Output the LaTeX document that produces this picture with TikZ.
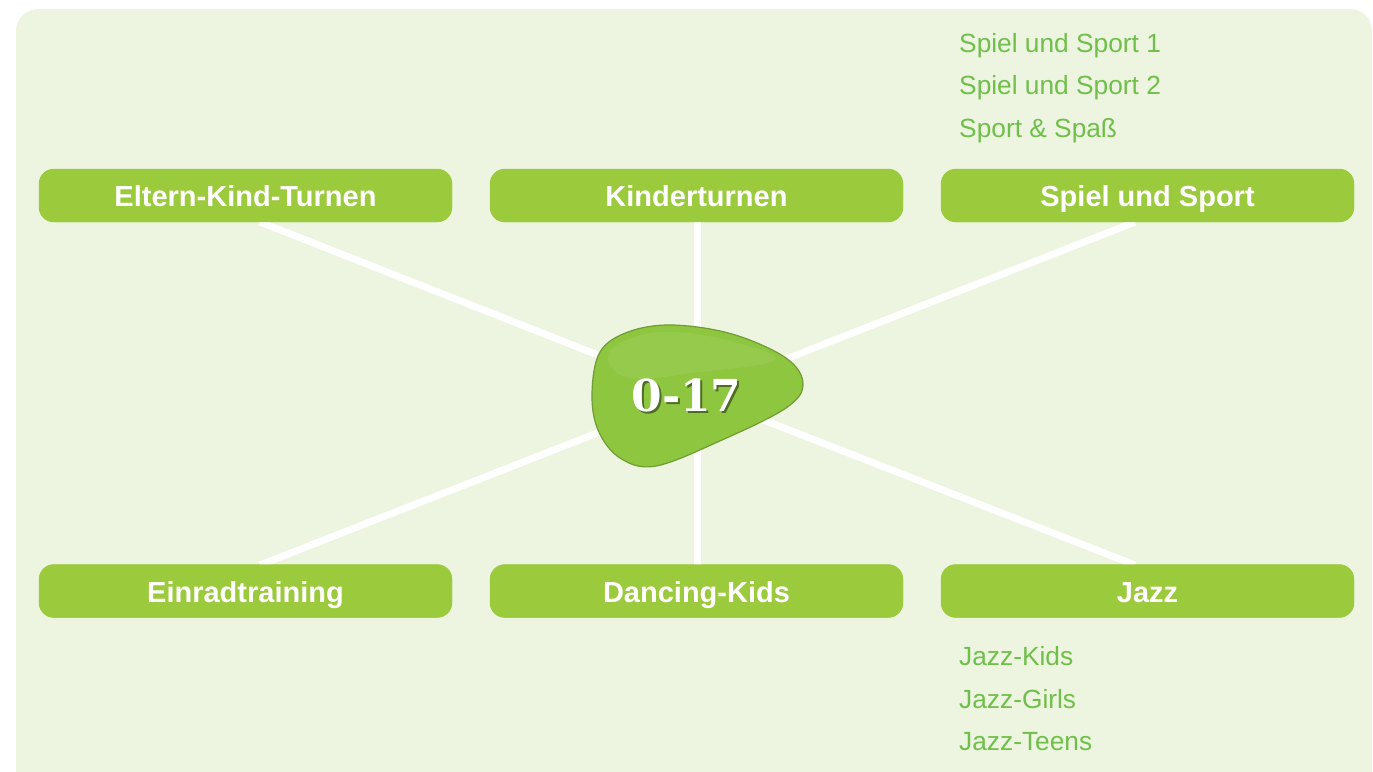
\documentclass[tikz,border=0pt]{standalone}
\usepackage{fontspec}
\setmainfont{Liberation Sans}
\newfontfamily\blobfont{DejaVu Serif}
\definecolor{bgc}{HTML}{EDF5E0}
\definecolor{boxc}{HTML}{9BCA3C}
\definecolor{subc}{HTML}{6FBF4A}
\definecolor{blobc}{HTML}{8EC63F}
\definecolor{blobd}{HTML}{6F9C33}
\begin{document}
\begin{tikzpicture}[x=1pt,y=-1pt,
  catbox/.style={fill=boxc, rounded corners=15pt, minimum width=413pt, minimum height=53pt, inner sep=0pt},
  cattext/.style={text=white, font=\fontsize{29}{29}\selectfont\bfseries, anchor=base},
  sub/.style={text=subc, font=\fontsize{26.3}{26.3}\selectfont, anchor=base west, inner sep=0pt},
  spoke/.style={draw=white, line width=7pt}]
\useasboundingbox (0,0) rectangle (1373,771);
\begin{scope}
\clip (0,0) rectangle (1373,771);
\fill[bgc, rounded corners=22pt] (16,9) rectangle (1372,795);
\end{scope}
% center
\coordinate (c) at (697,394);
% boxes
\node[catbox] (b1) at (245.5,195.5) {};
\node[catbox] (b2) at (696.5,195.5) {};
\node[catbox] (b3) at (1147.5,195.5) {};
\node[catbox] (b4) at (245.5,591) {};
\node[catbox] (b5) at (696.5,591) {};
\node[catbox] (b6) at (1147.5,591) {};
% spokes
\coordinate (s1) at (260,222);
\coordinate (s2) at (697,222);
\coordinate (s3) at (1135,222);
\coordinate (s4) at (260,565);
\coordinate (s5) at (697,565);
\coordinate (s6) at (1135,565);
\foreach \s in {s1,s2,s3,s4,s5,s6} \draw[spoke] (c) -- (\s);
% redraw boxes over spokes
\foreach \b in {b1,b2,b3,b4,b5,b6} \fill[boxc, rounded corners=15pt] (\b.north west) rectangle (\b.south east);
\node[cattext] (t1) at (245.5,206) {Eltern-Kind-Turnen};
\node[cattext] (t2) at (696.5,206) {Kinderturnen};
\node[cattext] (t3) at (1147.5,206) {Spiel und Sport};
\node[cattext] (t4) at (245.5,602) {Einradtraining};
\node[cattext] (t5) at (696.5,602) {Dancing-Kids};
\node[cattext] (t6) at (1147.5,602) {Jazz};
% blob
\draw[blobd, line width=1.2pt, fill=blobc]
  plot[smooth cycle, tension=0.6] coordinates {(600,352) (628,332) (672,325) (732,334) (786,358) (803,384) (786,408) (722,440) (656,466) (620,458) (598,430) (592,393)};
\fill[white, opacity=0.07]
  plot[smooth cycle, tension=0.7] coordinates {(608,356) (632,338) (672,332) (730,341) (775,360) (700,372) (630,378)};
\node[text=blobd!70!black, font=\blobfont\fontsize{44}{44}\selectfont\bfseries] (lblshadow) at (688.5,397.5) {0-17};
\node[text=white, font=\blobfont\fontsize{44}{44}\selectfont\bfseries] (lbl) at (686.5,395.5) {0-17};
% sub-lists
\node[sub] (p1) at (959,52) {Spiel und Sport 1};
\node[sub] (p2) at (959,94) {Spiel und Sport 2};
\node[sub] (p3) at (959,137) {Sport \& Spaß};
\node[sub] (j1) at (959,665) {Jazz-Kids};
\node[sub] (j2) at (959,708) {Jazz-Girls};
\node[sub] (j3) at (959,750) {Jazz-Teens};
\end{tikzpicture}
\end{document}
